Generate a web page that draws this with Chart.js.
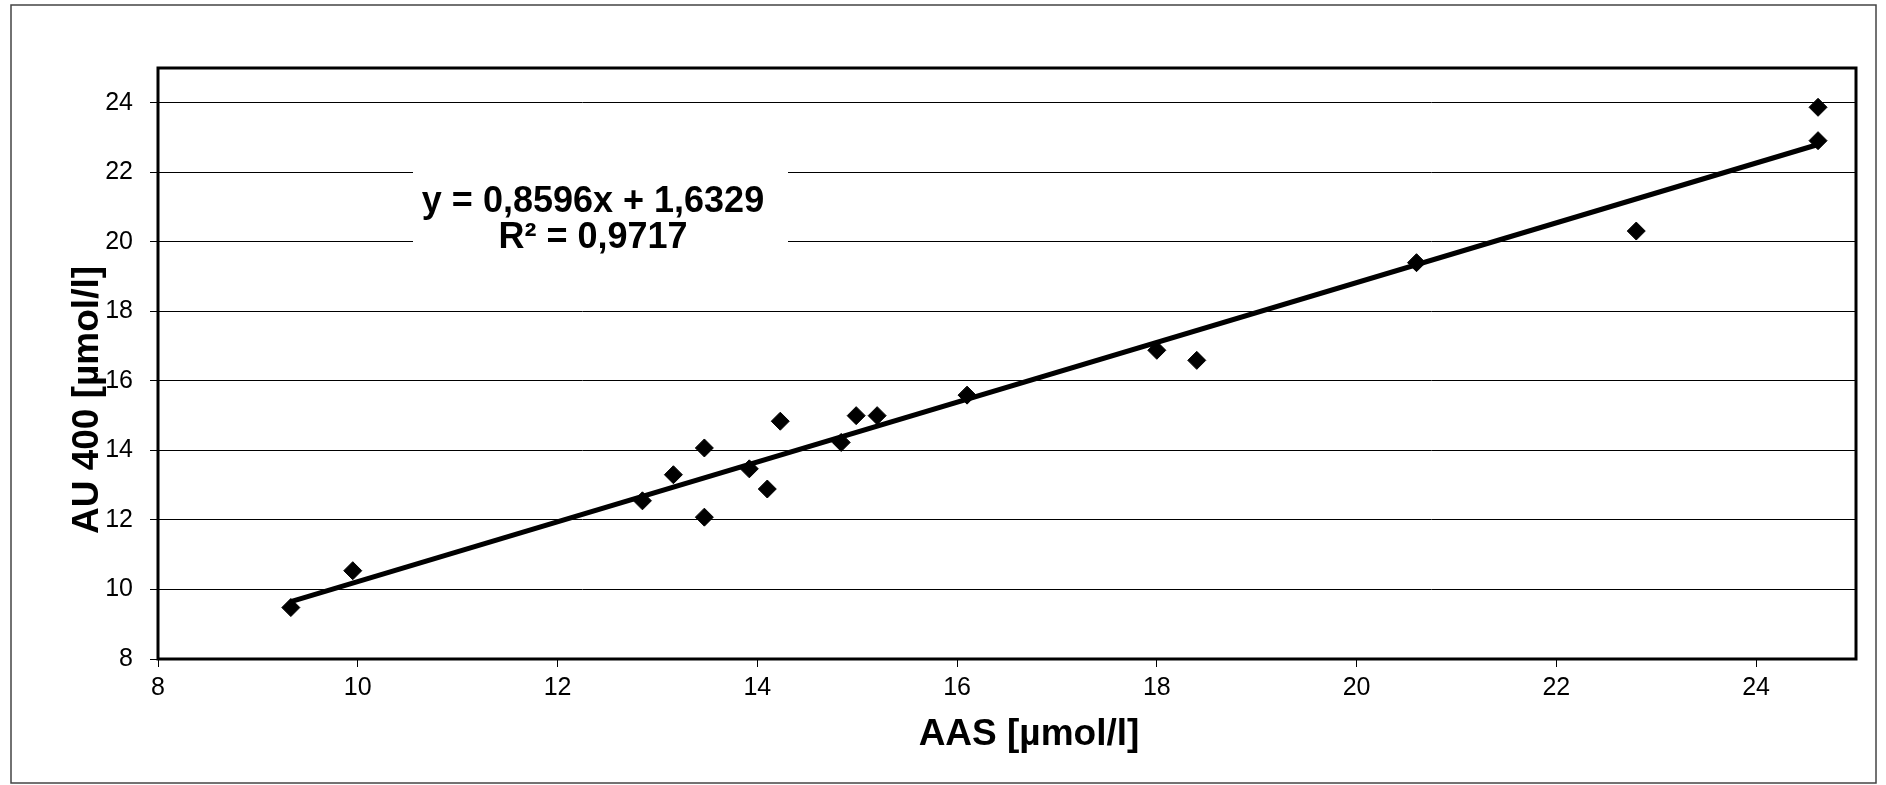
<!DOCTYPE html>
<html>
<head>
<meta charset="utf-8">
<script src="https://cdn.jsdelivr.net/npm/chart.js@4.4.0/dist/chart.umd.min.js"></script>
<style>
  html, body { margin: 0; padding: 0; background: #fff; }
  #wrap { width: 1886px; height: 785px; position: relative; }
</style>
</head>
<body>
<div id="wrap"><canvas id="chart"></canvas></div>
<script>
// AAS vs AU 400 (µmol/l)
const aasValues   = [9.33, 9.95, 12.85, 13.16, 13.47, 13.47, 13.92, 14.10, 14.23, 14.84, 14.99, 15.20, 16.10, 18.00, 18.40, 20.60, 22.80, 24.62, 24.62];
const au400Values = [9.48, 10.54, 12.55, 13.30, 14.07, 12.08, 13.47, 12.89, 14.84, 14.23, 15.00, 15.00, 15.59, 16.88, 16.59, 19.40, 20.31, 23.87, 22.91];

// linear trendline ends
const trendX = [9.33, 24.62];
const trendY = [9.65, 22.80];

const xTicks = [8, 10, 12, 14, 16, 18, 20, 22, 24];
const yTicks = [8, 10, 12, 14, 16, 18, 20, 22, 24];

const equationLine = 'y = 0,8596x + 1,6329';
const r2Line = 'R² = 0,9717';
const xTitle = 'AAS [µmol/l]';
const yTitle = 'AU 400 [µmol/l]';

const FONT = '"Liberation Sans", Arial, sans-serif';

const points = aasValues.map((x, i) => ({ x: x, y: au400Values[i] }));
const trend = trendX.map((x, i) => ({ x: x, y: trendY[i] }));

const frame = {
    id: 'frame',
    beforeDraw(chart) {
        const ctx = chart.ctx;
        ctx.save();
        ctx.fillStyle = '#fff';
        ctx.fillRect(0, 0, chart.width, chart.height);
        ctx.strokeStyle = '#444';
        ctx.lineWidth = 1.5;
        ctx.strokeRect(11, 5, 1865, 778);
        ctx.restore();
    },
    afterDraw(chart) {
        const ctx = chart.ctx;
        const a = chart.chartArea;
        ctx.save();
        // plot border
        ctx.strokeStyle = '#000';
        ctx.lineWidth = 3;
        ctx.strokeRect(a.left, a.top, a.right - a.left, a.bottom - a.top);

        // equation label
        ctx.fillStyle = '#fff';
        ctx.fillRect(413, 157, 375, 97);
        ctx.fillStyle = '#000';
        ctx.font = 'bold 36px ' + FONT;
        ctx.textAlign = 'center';
        ctx.textBaseline = 'alphabetic';
        ctx.fillText(equationLine, 593, 212);
        ctx.fillText(r2Line, 593, 248);

        // axis titles
        ctx.font = 'bold 37px ' + FONT;
        ctx.fillText(xTitle, 1029, 745);
        ctx.translate(98, 400);
        ctx.rotate(-Math.PI / 2);
        ctx.fillText(yTitle, 0, 0);
        ctx.restore();
    }
};

new Chart(document.getElementById('chart').getContext('2d'), {
    type: 'scatter',
    data: {
        datasets: [{
            label: 'Trend',
            type: 'line',
            data: trend,
            borderColor: '#000',
            borderWidth: 5,
            pointRadius: 0,
            fill: false,
            order: 0
        }, {
            label: 'AU 400',
            data: points,
            pointStyle: 'rectRot',
            pointRadius: 9,
            backgroundColor: '#000',
            borderColor: '#000',
            borderWidth: 1,
            order: 1
        }]
    },
    options: {
        responsive: true,
        maintainAspectRatio: false,
        animation: false,
        devicePixelRatio: 1,
        layout: { padding: { left: 0, top: 68, right: 30, bottom: 0 } },
        scales: {
            x: {
                min: 8,
                max: 25,
                afterBuildTicks: s => { s.ticks = xTicks.map(v => ({ value: v })); },
                afterFit: s => { s.height = 126; },
                grid: { drawOnChartArea: false, color: '#000', lineWidth: 1, tickLength: 8 },
                border: { display: false },
                ticks: { color: '#000', font: { family: FONT, size: 25 }, padding: 6, maxRotation: 0 }
            },
            y: {
                min: 8,
                max: 25,
                afterBuildTicks: s => { s.ticks = yTicks.map(v => ({ value: v })); },
                afterFit: s => { s.width = 158; },
                grid: { color: '#000', lineWidth: 1, tickLength: 8 },
                border: { display: false },
                ticks: { color: '#000', font: { family: FONT, size: 25 }, padding: 17 }
            }
        },
        plugins: {
            legend: { display: false },
            tooltip: { enabled: false }
        }
    },
    plugins: [frame]
});
</script>
</body>
</html>
